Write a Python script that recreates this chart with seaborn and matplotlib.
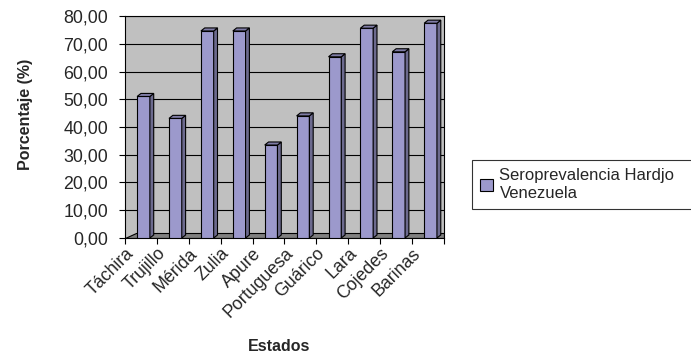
import numpy as np
import pandas as pd
import matplotlib.pyplot as plt
import seaborn as sns
from matplotlib.patches import Polygon
from matplotlib.ticker import FuncFormatter

# Values
estados = ['Táchira', 'Trujillo', 'Mérida', 'Zulia', 'Apure', 'Portuguesa',
           'Guárico', 'Lara', 'Cojedes', 'Barinas']
seroprevalencia = [51.0, 43.1, 74.6, 74.6, 33.5, 44.0, 65.3, 75.6, 67.1, 77.4]
serie = 'Seroprevalencia Hardjo\nVenezuela'

df = pd.DataFrame({'Estado': estados, 'Porcentaje': seroprevalencia})

sns.set_style('white')
plt.rcParams['font.family'] = ['Liberation Sans', 'DejaVu Sans']

fig = plt.figure(figsize=(6.91, 3.58), dpi=100)
ax = fig.add_axes([0.1809, 0.3352, 0.4616, 0.6201])
ax.set_facecolor('#C0C0C0')

# floor strip of the old excel 3D look
ax.add_patch(Polygon([(0, 0), (1, 0), (1, 0.022), (0.035, 0.022)], closed=True,
                     transform=ax.transAxes, facecolor='#808080',
                     edgecolor='black', lw=0.8, zorder=2))

sns.barplot(data=df, x='Estado', y='Porcentaje', color='#9C99CC', width=0.4,
            saturation=1, edgecolor='black', linewidth=0.8, ax=ax,
            label=serie, zorder=3)

# fake 3D depth: side and top faces taken from each bar's geometry
dx, dy = 0.12, 1.1
for p in ax.patches[1:]:
    p.set_x(p.get_x() + 0.08)
    x0, w, h = p.get_x(), p.get_width(), p.get_height()
    side = Polygon([(x0 + w, 0), (x0 + w + dx, dy), (x0 + w + dx, h + dy), (x0 + w, h)],
                   closed=True, facecolor='#6C6A8E', edgecolor='black', lw=0.8, zorder=3)
    top = Polygon([(x0, h), (x0 + dx, h + dy), (x0 + w + dx, h + dy), (x0 + w, h)],
                  closed=True, facecolor='#7F7CA6', edgecolor='black', lw=0.8, zorder=3)
    ax.add_patch(side)
    ax.add_patch(top)

ax.set_ylim(0, 80)
ax.set_xlim(-0.5, len(estados) - 0.5)
ax.set_yticks(range(0, 81, 10))
ax.yaxis.set_major_formatter(FuncFormatter(lambda v, _: f'{v:.2f}'.replace('.', ',')))
ax.grid(axis='y', color='black', linewidth=0.8, zorder=0)
ax.tick_params(axis='y', left=True, length=4, width=0.8, labelsize=12.8, color='black', pad=8)
ax.tick_params(axis='x', bottom=True, length=4, width=0.8, labelsize=12.8, color='black', pad=1)

# category labels hang from the boundary ticks, like the excel chart
ax.set_xticks(np.arange(len(estados) + 1) - 0.5)
ax.set_xticklabels(estados + [''], rotation=45, ha='right', va='top',
                   rotation_mode='anchor')
for s in ax.spines.values():
    s.set_color('black')
    s.set_linewidth(0.8)

ax.set_xlabel('Estados', fontsize=11.5, fontweight='bold', va='center')
ax.xaxis.set_label_coords(0.483, -0.491)
ax.set_ylabel('Porcentaje (%)', fontsize=11.5, fontweight='bold', va='center')
ax.yaxis.set_label_coords(-0.313, 0.556)

# legend box runs to the right edge as in the reference
leg = ax.legend(loc='upper left',
                bbox_to_anchor=(472 / 691, 1 - 210 / 358, 222 / 691, 50 / 358),
                bbox_transform=fig.transFigure, mode='expand', borderaxespad=0,
                frameon=True, fancybox=False, edgecolor='black', fontsize=12,
                labelspacing=0.2, handlelength=0.75, handleheight=0.75,
                handletextpad=0.4, borderpad=0.5)
leg.get_frame().set_linewidth(0.8)

fig.savefig('out.png', dpi=100, facecolor='white')
